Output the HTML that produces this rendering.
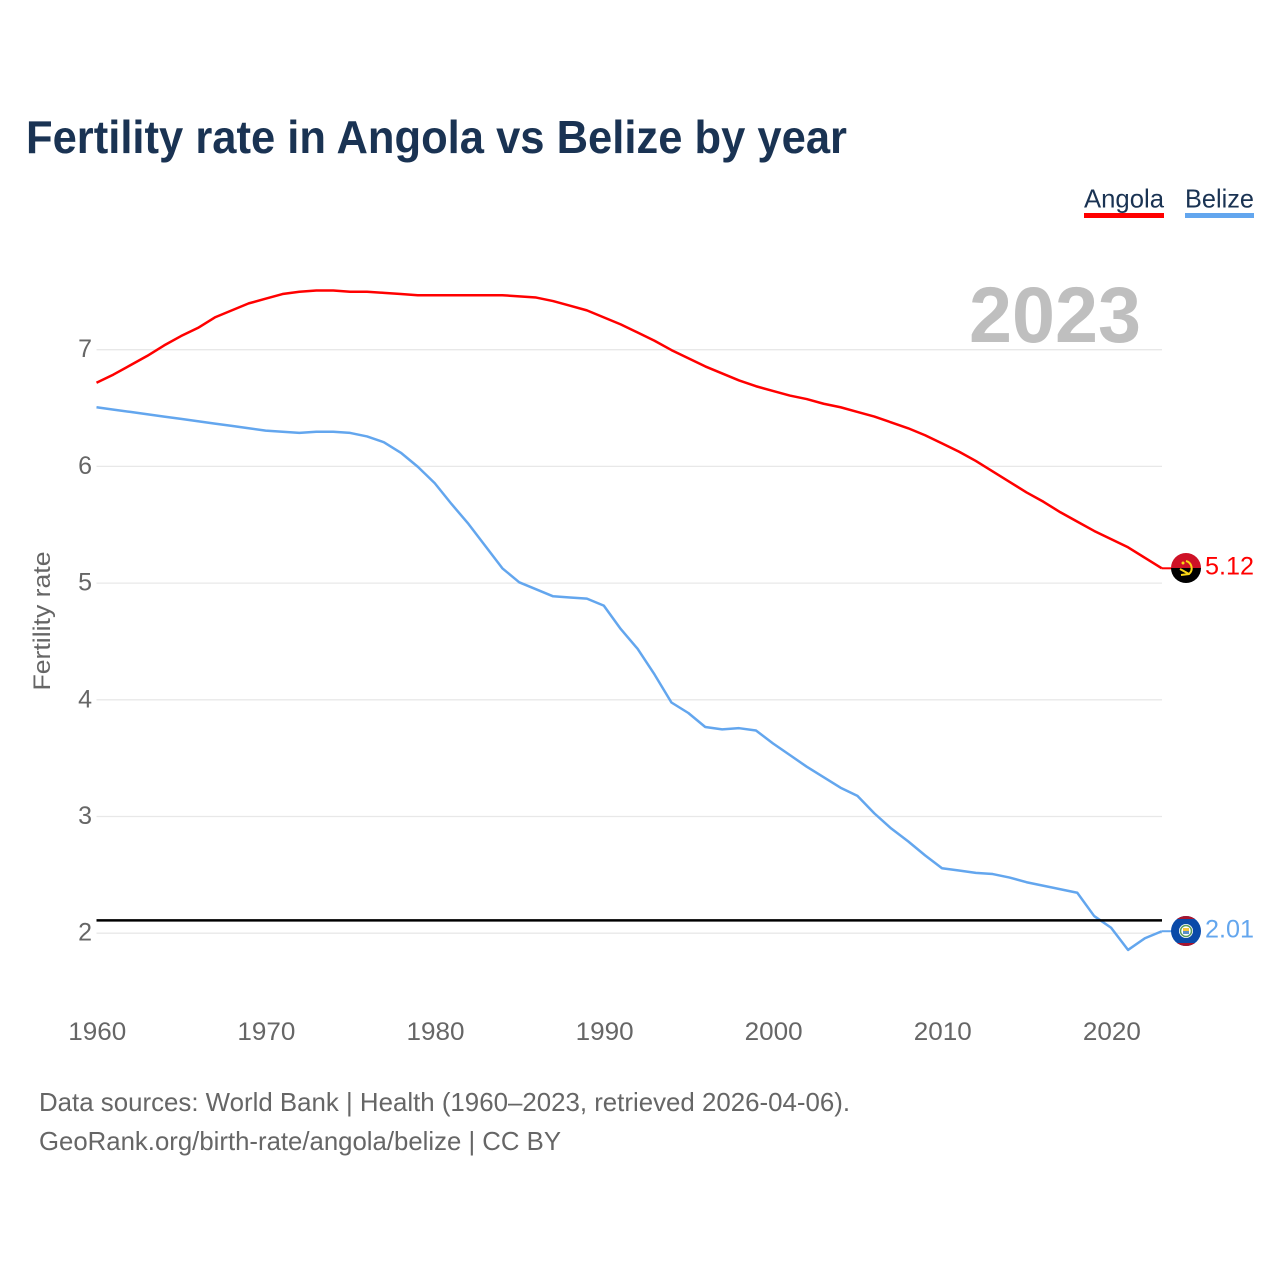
<!DOCTYPE html>
<html lang="en">
<head>
<meta charset="utf-8">
<title>Fertility rate in Angola vs Belize by year</title>
<style>
html,body{margin:0;padding:0;background:#fff;width:1280px;height:1280px;overflow:hidden}
svg{display:block;font-family:"Liberation Sans",sans-serif}
</style>
</head>
<body>
<svg id="chart" width="1280" height="1280" viewBox="0 0 1280 1280" xmlns="http://www.w3.org/2000/svg">
  <text x="26" y="153" font-size="46" font-weight="700" fill="#1a3353" textLength="821" lengthAdjust="spacingAndGlyphs">Fertility rate in Angola vs Belize by year</text>

  <g>
    <g>
      <text x="1084" y="207.5" font-size="26" fill="#1a3353" textLength="80" lengthAdjust="spacingAndGlyphs">Angola</text>
      <rect x="1084" y="213" width="80" height="5" fill="#ff0000"/>
    </g>
    <g>
      <text x="1185" y="207.5" font-size="26" fill="#1a3353" textLength="69" lengthAdjust="spacingAndGlyphs">Belize</text>
      <rect x="1185" y="213" width="69" height="5" fill="#63a6ee"/>
    </g>
  </g>

  <g id="grid"></g>
  <g id="yticks"></g>
  <g id="xticks"></g>

  <text transform="translate(50,690.5) rotate(-90)" font-size="24" fill="#666666" textLength="139" lengthAdjust="spacingAndGlyphs">Fertility rate</text>

  <text x="969" y="342" font-size="79" font-weight="700" fill="#bfbfbf" textLength="172" lengthAdjust="spacingAndGlyphs">2023</text>

  <g id="series"></g>
  <line id="refline" stroke="#000000" stroke-width="2.5"/>

  <g id="angola-end">
    <clipPath id="clipA"><circle cx="1186" cy="568" r="15"/></clipPath>
    <g clip-path="url(#clipA)">
      <rect x="1171" y="553" width="30" height="15" fill="#ce1126"/>
      <rect x="1171" y="568" width="30" height="15" fill="#000000"/>
      <path d="M1186 561 a7.5 7.5 0 0 1 3 13 l-8 1" fill="none" stroke="#f9d616" stroke-width="2"/>
      <path d="M1180 569 l9 5" fill="none" stroke="#f9d616" stroke-width="2"/>
      <circle cx="1183" cy="563" r="1.5" fill="#f9d616"/>
    </g>
    <text id="angola-value" x="1205" y="574.5" font-size="25" fill="#ff0000" textLength="49" lengthAdjust="spacingAndGlyphs">5.12</text>
  </g>

  <g id="belize-end">
    <clipPath id="clipB"><circle cx="1186" cy="931" r="15"/></clipPath>
    <g clip-path="url(#clipB)">
      <rect x="1171" y="916" width="30" height="30" fill="#0a4aa8"/>
      <rect x="1171" y="916" width="30" height="3" fill="#a8152e"/>
      <rect x="1171" y="943" width="30" height="3" fill="#a8152e"/>
      <circle cx="1186" cy="931" r="7" fill="#ffffff"/>
      <circle cx="1186" cy="931" r="5.5" fill="none" stroke="#5a9a5a" stroke-width="1.5"/>
      <rect x="1183" y="928" width="6" height="3" fill="#f5c33b"/>
      <rect x="1183" y="931" width="6" height="3" fill="#5b8fc9"/>
    </g>
    <text id="belize-value" x="1205" y="937.5" font-size="25" fill="#63a6ee" textLength="49" lengthAdjust="spacingAndGlyphs">2.01</text>
  </g>

  <text x="39" y="1111" font-size="26" fill="#666666" textLength="811" lengthAdjust="spacingAndGlyphs">Data sources: World Bank | Health (1960–2023, retrieved 2026-04-06).</text>
  <text x="39" y="1150" font-size="26" fill="#666666" textLength="522" lengthAdjust="spacingAndGlyphs">GeoRank.org/birth-rate/angola/belize | CC BY</text>
</svg>
<script>
const startYear = 1960;
const xTickYears = [1960, 1970, 1980, 1990, 2000, 2010, 2020];
const yTickValues = [2, 3, 4, 5, 6, 7];
const replacementRate = 2.11;
const angolaValues = [6.71,6.78,6.86,6.94,7.03,7.11,7.18,7.27,7.33,7.39,7.43,7.47,7.49,7.50,7.50,7.49,7.49,7.48,7.47,7.46,7.46,7.46,7.46,7.46,7.46,7.45,7.44,7.41,7.37,7.33,7.27,7.21,7.14,7.07,6.99,6.92,6.85,6.79,6.73,6.68,6.64,6.60,6.57,6.53,6.50,6.46,6.42,6.37,6.32,6.26,6.19,6.12,6.04,5.95,5.86,5.77,5.69,5.60,5.52,5.44,5.37,5.30,5.21,5.12];
const belizeValues = [6.50,6.48,6.46,6.44,6.42,6.40,6.38,6.36,6.34,6.32,6.30,6.29,6.28,6.29,6.29,6.28,6.25,6.20,6.11,5.99,5.85,5.67,5.50,5.31,5.12,5.00,4.94,4.88,4.87,4.86,4.80,4.60,4.43,4.21,3.97,3.88,3.76,3.74,3.75,3.73,3.62,3.52,3.42,3.33,3.24,3.17,3.02,2.89,2.78,2.66,2.55,2.53,2.51,2.50,2.47,2.43,2.40,2.37,2.34,2.14,2.04,1.85,1.95,2.01];

const NS = 'http://www.w3.org/2000/svg';
const plotLeft = 96.5, plotRight = 1162;
const seriesShift = -0.8;
function xScale(year) { return plotLeft + (year - 1960) * 16.91; }
function yScale(v) { return 933.2 - (v - 2) * 116.7; }
function make(tag, attrs, parent) {
  const el = document.createElementNS(NS, tag);
  for (const k in attrs) el.setAttribute(k, attrs[k]);
  parent.appendChild(el);
  return el;
}
const gridG = document.getElementById('grid');
const yG = document.getElementById('yticks');
const xG = document.getElementById('xticks');
const seriesG = document.getElementById('series');

yTickValues.forEach(function (v) {
  const ln = make('line', {x1: plotLeft, x2: plotRight, y1: yScale(v), y2: yScale(v), stroke: '#e8e8e8', 'stroke-width': 1.3}, gridG);
  
  
  const t = make('text', {x: 92, y: yScale(v) + 7.5, 'text-anchor': 'end', 'font-size': 25, fill: '#666666'}, yG);
  
  
  t.textContent = String(v);
});

xTickYears.forEach(function (yr) {
  const t = make('text', {x: xScale(yr) + 0.8, y: 1040, 'text-anchor': 'middle', 'font-size': 25, fill: '#666666', textLength: 58, lengthAdjust: 'spacingAndGlyphs'}, xG);
  
  
  t.textContent = String(yr);
});

function drawSeries(values, color, name) {
  const pts = values.map(function (v, i) { return xScale(startYear + i).toFixed(2) + ',' + (yScale(v) + seriesShift).toFixed(2); });
  const p = make('polyline', {points: pts.join(' '), fill: 'none', stroke: color, 'stroke-width': 2.5, 'stroke-linejoin': 'round'}, seriesG);
  
  
  const last = values[values.length - 1];
  const lx = xScale(startYear + values.length - 1);
  const c = make('line', {x1: lx, x2: lx + 11, y1: yScale(last) + seriesShift, y2: yScale(last) + seriesShift, stroke: color, 'stroke-width': 2}, seriesG);
  
  
}
drawSeries(angolaValues, '#ff0000', 'angola');
drawSeries(belizeValues, '#63a6ee', 'belize');

const ref = document.getElementById('refline');
ref.setAttribute('x1', plotLeft);
ref.setAttribute('x2', plotRight);
ref.setAttribute('y1', yScale(replacementRate));
ref.setAttribute('y2', yScale(replacementRate));
</script>
</body>
</html>
